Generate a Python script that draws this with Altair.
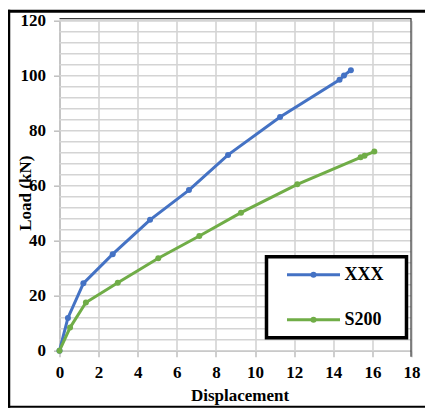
import altair as alt
import pandas as pd

series_names = ["XXX", "S200"]
series_colors = ["#4472C4", "#70AD47"]

xxx_disp = [0, 0.43, 1.22, 2.72, 4.63, 6.62, 8.62, 11.28, 14.32, 14.55, 14.9]
xxx_load = [0, 11.9, 24.5, 35.1, 47.6, 58.4, 71.2, 85.0, 98.5, 100.1, 102.0]
s200_disp = [0, 0.54, 1.35, 2.98, 5.05, 7.15, 9.28, 12.16, 15.4, 15.6, 16.1]
s200_load = [0, 8.4, 17.5, 24.7, 33.6, 41.7, 50.2, 60.5, 70.3, 70.9, 72.4]

x_ticks = list(range(0, 19, 2))
y_ticks = list(range(0, 121, 20))
y_grid = list(range(0, 121, 4))

rows = []
for name, xs, ys in [("XXX", xxx_disp, xxx_load), ("S200", s200_disp, s200_load)]:
    for i, (x, y) in enumerate(zip(xs, ys)):
        rows.append({"series": name, "pt": name + " ", "order": i, "disp": x, "load": y})
df = pd.DataFrame(rows)
grid_df = pd.DataFrame({"load": y_grid})

FONT = "Liberation Serif"
W, H = 352, 330
GRID = "#D4D4D4"

x_axis = alt.Axis(
    values=x_ticks, title="Displacement", grid=True, gridColor=GRID, gridWidth=1.6,
    domainColor="#BFBFBF", domainWidth=1.5, tickColor="#BFBFBF", tickSize=6, tickWidth=1.5,
    labelFont=FONT, labelFontWeight="bold", labelFontSize=17, labelColor="black",
    labelPadding=8, labelFlush=False, labelOverlap=False,
    titleFont=FONT, titleFontWeight="bold", titleFontSize=17, titleColor="black",
    titleX=180, titleY=50, titleBaseline="alphabetic", titleAlign="center",
)
y_axis = alt.Axis(
    values=y_ticks, title="Load (kN)", grid=False,
    domainColor="#BFBFBF", domainWidth=1.5, tickColor="#BFBFBF", tickSize=6, tickWidth=1.5,
    labelFont=FONT, labelFontWeight="bold", labelFontSize=17, labelColor="black",
    labelPadding=8, labelFlush=False, labelOverlap=False,
    titleFont=FONT, titleFontWeight="bold", titleFontSize=17, titleColor="black",
    titleX=-34, titleY=172, titleAngle=-90, titleAlign="center", titleBaseline="middle",
)

x_scale = alt.Scale(domain=[0, 18], nice=False, zero=True)
y_scale = alt.Scale(domain=[0, 120], nice=False)

hgrid = alt.Chart(grid_df).mark_rule(color=GRID, strokeWidth=1.6).encode(
    y=alt.Y("load:Q", scale=y_scale, axis=y_axis),
    x=alt.value(0), x2=alt.value(W),
)

base = alt.Chart(df)

line = base.mark_line(strokeWidth=3).encode(
    x=alt.X("disp:Q", scale=x_scale, axis=x_axis),
    y=alt.Y("load:Q", scale=y_scale, axis=y_axis),
    order="order:Q",
    color=alt.Color(
        "series:N",
        scale=alt.Scale(domain=series_names, range=series_colors),
        legend=alt.Legend(
            orient="none", legendX=226, legendY=246, title=None, direction="vertical",
            symbolType="stroke", symbolSize=2809, symbolStrokeWidth=3, clipHeight=16,
            rowPadding=27, padding=0, labelOffset=3,
            labelFont=FONT, labelFontWeight="bold", labelFontSize=18, labelColor="black",
        ),
    ),
)

points = base.mark_circle(size=36, opacity=1).encode(
    x=alt.X("disp:Q", scale=x_scale, axis=x_axis),
    y=alt.Y("load:Q", scale=y_scale, axis=y_axis),
    fill=alt.Fill(
        "pt:N",
        scale=alt.Scale(domain=[n + " " for n in series_names], range=series_colors),
        legend=alt.Legend(
            orient="none", legendX=226, legendY=246, title=None, direction="vertical",
            symbolType="circle", symbolSize=36, symbolStrokeWidth=0, clipHeight=16,
            rowPadding=27, padding=0, symbolOffset=19, labelExpr="''",
            labelFont=FONT, labelFontSize=18,
        ),
    ),
)

one = pd.DataFrame({"k": [0]})
legend_box = alt.Chart(one).mark_rect(fill="white", stroke="black", strokeWidth=3.5).encode(
    x=alt.value(207), x2=alt.value(347), y=alt.value(236), y2=alt.value(317)
)

frame_top_in = alt.Chart(one).mark_rule(color="#3a3a3a", strokeWidth=1.2).encode(
    x=alt.value(0), x2=alt.value(W), y=alt.value(-2)
)
frame_right_in = alt.Chart(one).mark_rule(color="#3a3a3a", strokeWidth=1.2).encode(
    x=alt.value(W - 0.5), y=alt.value(-2), y2=alt.value(H + 6)
)
outer_left = alt.Chart(one).mark_rule(color="black", strokeWidth=3.5).encode(
    x=alt.value(-51), y=alt.value(-11), y2=alt.value(387)
)
outer_top = alt.Chart(one).mark_rule(color="black", strokeWidth=3).encode(
    x=alt.value(-52.5), x2=alt.value(366), y=alt.value(-9.5)
)
outer_bottom = alt.Chart(one).mark_rule(color="black", strokeWidth=2).encode(
    x=alt.value(-52.5), x2=alt.value(366), y=alt.value(386)
)

chart = alt.layer(
    hgrid, line, points, legend_box, frame_top_in, frame_right_in, outer_left, outer_top, outer_bottom
).properties(
    width=W, height=H,
    autosize=alt.AutoSizeParams(type="none"),
    padding={"left": 51.5, "top": 12.7, "right": 13.5, "bottom": 57},
).configure_view(stroke=None).configure(background="white")

chart.save("out.html", embed_options={"renderer": "svg", "actions": False})
